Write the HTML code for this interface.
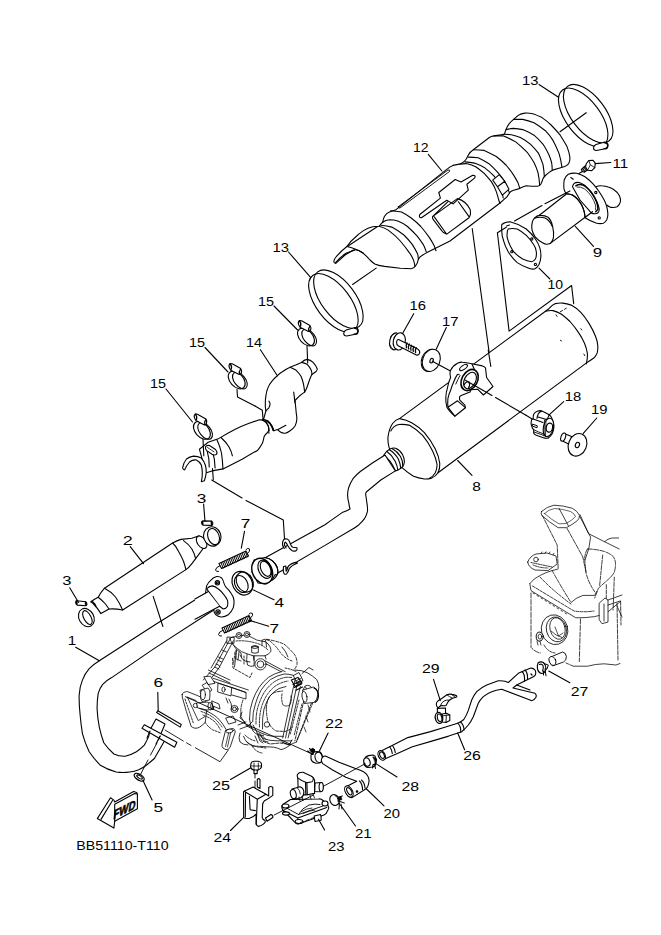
<!DOCTYPE html>
<html><head><meta charset="utf-8">
<style>
html,body{margin:0;padding:0;background:#fff;}
svg{display:block;}
text{font-family:"Liberation Sans",sans-serif;font-size:12.3px;fill:#000;}
</style></head><body>
<svg width="661" height="935" viewBox="0 0 661 935">
<g fill="none" stroke="#000" stroke-width="1.1" stroke-linejoin="round" stroke-linecap="round">
<!-- clamp 13 top -->
<g id="c13a">
<ellipse cx="583.2" cy="117.3" rx="34.3" ry="17" transform="rotate(52.9 583.2 117.3)"/>
<ellipse cx="588.2" cy="113.7" rx="34.3" ry="17" transform="rotate(52.9 588.2 113.7)"/>
<path d="M596 144.5 L605 142 Q608.5 142.5 608 146 Q607 148.5 604 149 L596.5 150.5 Q593.5 150.5 593.5 148 Q593.7 145.5 596 144.5 Z" fill="#fff"/>
<path d="M604 142.5 Q608.5 143 607.5 147.5 Q606 149.5 604 148.5" stroke-width="1.3"/>
</g>
<path d="M539 84.5 L558.5 97.2"/>
<path d="M560 131.7 L586.2 112.7"/>
<!-- clamp 13 lower -->
<g transform="translate(-249.8 185.5)">
<ellipse cx="583.2" cy="117.3" rx="34.3" ry="17" transform="rotate(52.9 583.2 117.3)"/>
<ellipse cx="588.2" cy="113.7" rx="34.3" ry="17" transform="rotate(52.9 588.2 113.7)"/>
<path d="M596 144.5 L605 142 Q608.5 142.5 608 146 Q607 148.5 604 149 L596.5 150.5 Q593.5 150.5 593.5 148 Q593.7 145.5 596 144.5 Z" fill="#fff"/>
<path d="M604 142.5 Q608.5 143 607.5 147.5 Q606 149.5 604 148.5" stroke-width="1.3"/>
</g>
<path d="M288.5 252 L310.8 277.6"/>
<path d="M352.6 284.5 L376.2 268.1"/>
<!-- heat shield 12 outline -->
<path fill="#fff" d="M334.2 262.5 Q333 260.5 336 257 Q341 251 346.9 246.5 Q350 241.5 354.5 238 Q359 233.5 363.5 230.6 Q368 227.8 372.6 226.8 L379.2 226.2 Q381.5 223 382.7 222.2 Q383.5 218 384.5 216.2 Q386.5 213.3 389.4 212 L395.4 210.1 L447.7 168.6 Q450 166.5 452.9 165.4 L459.3 164.1 Q462 163.5 463.6 161.9 Q466 160 466.7 158.3 L468.5 154.7 Q470 152 473.3 149.8 L481.8 143.2 L489 137.7 Q491 136.3 493.9 135.9 L501.2 134.7 Q503.7 134.5 504.5 134.1 Q505 132 505.7 130.1 Q507 126.5 509.1 123.9 Q511 121.5 513.6 119.4 L518.2 115.4 Q521 113.5 525 113.1 Q528 112.8 532.9 113.7 Q537 115 542 117.6 Q547 121 551.1 125 Q556 130 560.2 135.2 Q564 141 567 146.6 Q569 151.5 569.8 156.8 Q570.2 161 568.7 163.6 Q567 165.6 564.7 166.5 L559 168.2 L553.3 169.9 Q550.5 171 548.8 172.7 L545.4 175.5 Q544 177 543.1 178.4 Q542 182 540.9 184 Q539.5 186 537.5 186.3 L531.8 186.3 L526.1 185.8 Q522.5 186.8 519.3 188.6 L513.6 190.3 Q511.5 191 510.2 192 Q508.5 194.5 506.9 196.9 Q504 199.5 500 203 L450 241 L428 252 Q425 253.5 422 255.5 Q419.5 257 418.4 259.2 Q417.5 263.5 416 265.2 Q414 268.5 411.2 268.8 L400.3 268.2 L384.5 266.4 Q378 265.5 374.8 264 Q372 262 370 260 Q367 256.5 363.3 253.3 Q358 249 353.3 250 L345 255 L335.8 263.3 Q335 263.5 334.2 262.5 Z"/>
<path d="M335.5 262.5 Q341 256.5 346.5 253 L354.5 250.2 M346.9 246.5 Q351 247.5 354.5 248.7 Q359.5 250.5 363.3 253.3 M348.4 245.7 L377.2 226.8"/>
<!-- cone ribs -->
<path d="M379.1 226.2 Q384 227.5 388.2 230.1 Q395 235 400.3 241 Q405 246.5 408.7 251.9 Q412 256 413.6 260.4 Q414.8 264 414.8 266.4"/>
<path d="M380.9 225.3 Q387 225.8 391.8 227.1 Q398 230.5 403.9 235 Q408.5 239.5 412.4 244.6 Q415.5 249.5 417.8 254.3 L418.4 259.2"/>
<path d="M382.7 222.2 Q385.5 220 389.4 219.8 Q394 219.8 397.8 221 Q403 223 407.5 226.5 Q412.5 231 417.2 236.2 Q420.5 240.5 423.3 244.6 Q425 248 426.3 251.9"/>
<path d="M390.6 210.7 Q396 211 401.5 212 Q406.5 214.5 411.2 218 Q416.5 222 420.8 226.5 Q425.5 232 429.3 237.4 Q432 241.5 434.2 245.8 L436 250.7"/>
<!-- body ribs middle -->
<path d="M460 164.3 Q464 163.4 467.3 163.7 Q471.5 164.8 475.7 166.8 Q480 169.8 484.2 173.4 Q488 177.5 491.5 181.9 Q494.5 186.5 496.3 191.6 Q497.8 196 498.7 200 L500 203.5"/>
<path d="M464.8 161.9 Q470 162.5 474.5 163.1 Q479.5 165 484.2 167.4 Q489.5 171.5 493.9 175.8 Q497.5 180 500 184.3 Q501.8 189 502.4 194 L503.2 198"/>
<path d="M468.5 157.1 Q473.5 157.2 478.2 157.7 Q484 160.5 489 163.7 Q493.5 167.8 497.5 172.2 Q501.2 176.5 504.2 180.7 Q506.5 185.5 508.4 190.4 L509.5 193"/>
<path d="M473.3 149.8 Q479 150 484.2 150.4 Q490.5 153.3 496.3 156.5 Q501.5 160.5 506 165 Q510 169.8 513.3 174.6 Q516 178.8 518.1 183.1 L519.8 188.3"/>
<!-- bulge ribs -->
<path d="M493.9 135.9 Q499 135.8 503.6 135.9 Q510 138.5 515.7 141.9 Q522 147 527.2 152.3 Q531 157.5 534 162.5 Q536.5 167.5 538 172.7 Q539.3 179 539.7 185.5"/>
<path d="M504.5 134.3 Q508 134.4 511.4 134.7 Q516 135.8 520.4 137.5 Q526 140.5 530.6 144.3 Q535 148.5 538.6 153.4 Q541.2 159 543.1 164.8 Q544 170.5 544.3 176.1"/>
<path d="M506.2 129.6 Q510 128.7 513.6 128.4 Q518 128.6 522.7 129.6 Q528.5 132 534 135.2 Q539 139.5 543.1 144.3 Q546.5 149.5 548.8 154.5 Q550.5 158.5 551.6 162.5 Q552.2 166 552.2 169.9"/>
<path d="M513.6 119.4 L522.7 119.4 Q528.5 120.5 534 122.8 Q540 126.5 545.4 130.7 Q550 135.5 553.3 140.9 Q556.5 147 559 153.4 Q561 160 561.9 167"/>
<!-- tabs -->
<path d="M492.7 180.1 L499.3 174.6 L504.8 181.3 L497.5 186.7 Z M497.5 186.7 L504.8 181.3 L509 189.2 L502.4 195.2 Z" fill="#fff"/>
<!-- slots -->
<path d="M398.3 206.7 L448 170 Q450.5 169.5 449.5 171.5 L400 208 Q398 208.5 398.3 206.7 Z" stroke-width="0.9"/>
<path d="M419.8 214.5 L440.4 198.1 L438.8 192.5 L455.2 179.5 L461 182 L472.7 175.3 Q476 175.2 474.8 177.9 L466.9 184.3 L468.3 190.2 L453.1 203.9 L446.8 200.2 L421.4 217.7 Q418.5 218 419.8 214.5 Z"/>
<path d="M432.5 216.6 L447.8 201.8 M457.4 198.6 Q466 201 470 209.2 Q471.5 214 469 217.7 L446.8 234.1 Q443 233 441.5 230.4 L433.5 219.8 Q432 218 432.5 216.6 Z M458.4 201.8 L469 216.6 M434.1 216.6 L446.2 233.5"/>
<path d="M472.2 228.5 L491 366"/>
<path d="M428.3 154.4 L441.9 171"/>

<!-- tail pipe 9 -->
<path fill="#fff" d="M595.8 186.7 Q599 185.5 601.7 185.8 Q605.5 186 608.3 187.1 Q611 188 613.3 189.2 Q617.5 192 619.3 195.5 Q621 199 620.4 201.9 Q619.5 205 617.2 206.7 Q614 208 610 207.1 Q608 206.3 606.7 205"/>
<path fill="#fff" d="M564.2 180 Q565.5 176 568.3 174.2 Q572 172.8 576.7 173.3 Q581 174.5 585 176.7 Q589.5 180 593.3 184.2 Q596.5 188 599.2 191.7 Q602 196 604.2 200 Q606 203.5 606.7 206.7 Q607.8 210.5 607.9 214.2 Q607.8 217.5 606.7 220 Q605 222.5 603.3 223.3 Q599.5 224 596 223 Q590 221 585.5 218 Q577 210 570 200 Q566.5 196.5 565 191.7 Q563.5 188.5 563.8 186.7 Q563.7 183 564.2 180 Z"/>
<path fill="#fff" d="M572.5 186.7 Q573 184.5 574.2 183.3 Q576.5 182 579.2 182.5 Q582 183.5 584.2 185 Q587 187.5 589.2 190 Q592 193 594.2 196.7 Q596.3 200 597.5 203.3 Q598.8 206.5 599.2 209.2 Q599.2 211.5 598.3 212.5 Q596.8 213.8 595 213.8 Q593 213.8 591.7 213.3 L580 200 Z"/>
<path d="M575.8 185.8 Q578 184.5 580.8 184.6 Q583.5 185.3 585.8 186.7 Q588.5 189 590.8 191.7 Q593.3 195 595 198.3 Q596.7 201.5 597.5 205 Q598 207.5 597.9 209.2 Q597 210.8 595.8 211.7" stroke-width="1.5"/>
<path d="M577 187 Q580.5 186.5 584.5 188.8 Q588.5 192 591.5 196.5 Q594 200.5 595.3 204.5 Q596 207.5 595.5 209.5" stroke-width="0.8"/>
<path d="M570.8 177.5 L573.3 179.2"/>
<circle cx="595.8" cy="192.5" r="1.1"/><circle cx="599.2" cy="217.9" r="1.1"/>
<path fill="#fff" d="M538.1 216.3 L566.7 193.8 Q570 194 572.5 195 Q575.5 196.8 577.5 199.2 Q580 202 581.7 205 Q583.3 208.3 584.2 211.7 Q584.8 214.5 585 217.5 L592.5 211.7 L549.9 243.6 Z"/>
<path d="M566.7 193.8 Q570 194 572.5 195 Q575.5 196.8 577.5 199.2 Q580 202 581.7 205 Q583.3 208.3 584.2 211.7 Q584.8 214.5 585 217.5"/>
<path fill="#fff" d="M531.8 228.1 Q531.5 221 534.5 218.1 Q537 215 540.8 215.4 Q545 215.5 548.1 217.2 Q551.5 220.5 552.6 226.3 Q554 232 553.5 237.2 Q552.5 242 549.9 243.6 Q546 245.2 542.6 242.7 Q538 240.5 535.4 237.2 Q532 232 531.8 228.1 Z"/>
<path d="M534.5 218.1 Q540 216.5 545 218 Q549.5 220 552 226"/>
<!-- bolt 11 -->
<path fill="#fff" d="M581.3 169.5 L586.5 164.8 L589.5 168.2 L584.3 172.3 Q582 172 581.3 169.5 Z"/>
<path d="M582.5 168.3 l2.3 3 M583.9 167.1 l2.3 3 M585.3 165.9 l2.3 3" stroke-width="1.1"/>
<path fill="#fff" d="M586.3 163.5 L588.8 160.6 L592.8 160.2 L595.3 163.2 L594.8 167.6 L591.8 170.6 L587.6 170.3 L585.6 167 Z" stroke-width="1.1"/>
<path d="M588.8 160.6 L590.3 164.8 L594.8 167.6 M590.3 164.8 L587.6 170.3" stroke-width="0.8"/>
<path d="M582.8 171.2 L579 173.5"/>
<path d="M595.2 163.6 L610.8 162.5"/>
<path d="M575.3 226.3 L593.5 246.3"/>
<!-- gasket 10 -->
<path fill="#fff" fill-rule="evenodd" d="M501.8 224.5 Q505 221.8 510 221.8 Q519 224 526.3 229 Q532 234 535.4 239 Q538.5 243.5 539.9 248.1 Q541.2 252.5 540.8 257.2 Q540.5 261.5 539 264.4 Q537 268 534.5 269 Q531 269.5 528.1 268.1 Q522.5 266 517.2 262.6 Q512 258 508.2 251.7 Q505 246 503.6 240.8 Q501.8 236 501.8 231.8 Q501.5 227 501.8 224.5 Z M508.2 229 Q512 228 517.2 229 Q522 231.5 526.3 235.4 Q530.5 239.5 533.6 244.5 Q536 248 536.3 251.7 Q536.8 256 535.4 259 Q533.5 261.7 531.8 261.7 Q527 261 522.7 259 Q517.5 256 513.6 251.7 Q510 246.5 508.2 240.8 Q506.5 236.5 507.2 233.6 Q507 230.5 508.2 229 Z"/>
<circle cx="531.8" cy="239" r="1.1"/><circle cx="511.8" cy="251.7" r="1.1"/><circle cx="535.4" cy="264.4" r="1.1"/>
<path d="M506.5 226 L509.5 225"/>
<path d="M539 268.1 L549.9 279"/>
<!-- reference lines -->
<path d="M514.5 220.9 L542 205.5 M545 203.8 L569.9 190.9"/>
<path d="M506.3 227.2 L497.4 232.7 L509.1 331.1 L571.6 285.5 L573.7 303.6"/>
<!-- muffler 8 -->
<path fill="#fff" d="M399.5 418.6 L548.2 309.3 Q552 305 555.4 303.6 Q559 302.8 562.7 303.1 Q567 303.8 571.2 305.1 Q576.5 308 580.8 312.4 Q585.5 317.5 589.3 323.9 Q593 330 595.4 336 Q597.5 341 597.8 345.7 Q598 350 597.2 352.9 Q596 356 594.1 357.8 Q590.5 360.5 586.9 362.6 L438 472.7 Q435.5 476.5 431.7 478.1 Q428 479.2 424.4 479 Q418.5 478.2 413.5 476.3 Q407.5 472.5 402.6 468.1 Q394 460 389 447.2 Q387.5 441.5 388.1 436.3 Q389.2 428.5 392.6 423.5 Q395.5 420 399.5 418.6 Z"/>
<path d="M399.5 418.6 Q406.5 419.8 411.7 422.7 Q418.5 426.5 424.4 432.7 Q431 440.5 435.3 449 Q439 456.5 439.8 463.6 Q440 469 438 472.7"/>
<path d="M545.7 311.2 Q549.5 310.2 553 310.6 Q557.5 312 561.5 314.2 Q566 317.5 570 321.5 Q574.5 326.5 578.4 332.4 Q582 337.5 584.5 343.3 Q586.7 348.5 587.5 354.1 Q587.5 359 586.3 363.8"/>
<path d="M390.8 430.9 Q393.5 425.5 399 424.5 Q404.5 424 409.9 425.4 Q416.5 429 422.6 435.4 Q428.5 442.5 432.6 450.9 Q436 458 437.1 464.5 Q437 469.5 435.3 472.7 Q433 476.5 429.9 478.1"/>

<path d="M556 314.8 l1 1.5 M580.8 328.7 l1 1.3 M560.3 340.2 l1.2 0.8 M583.9 354.1 l0.8 1.5" stroke-width="0.9"/>
<path d="M560.3 311.8 L562.5 310.5 M564.5 309.3 L566.3 308.2" stroke-width="0.9"/>
<!-- inlet pipe collar -->
<path fill="#fff" d="M383.5 455.5 Q386 451 390 449 Q393 447.5 395.5 448.3 Q400 450 402.5 454.5 Q404.6 458.5 404.4 461.8 Q404 465.5 402.6 466.6 Q400.5 469 397.5 470.3 L395.4 470.9 Q393 465 390 461 Q387 457.5 383.5 455.5 Z"/>
<path d="M386.9 451.5 Q392 455 395 461 Q397.3 465.5 397.8 470"/>
<path d="M389.3 449.7 Q395 453 398.3 459 Q400.5 464 400.7 468.3"/>
<path d="M392 448.5 Q397.5 451.5 400.5 456.5 Q403 461 402.8 466.2"/>
<!-- bracket on muffler -->
<path fill="#fff" d="M471.8 363.8 L482.4 365.9 Q485 366.8 485.5 368 L486.6 377.5 L493 386.5 L483.4 395 L477.6 389.2 L468 390 Z"/>
<path fill="#fff" d="M450.6 377.5 Q449.5 372.5 450.5 370.5 Q452.5 366 457.5 363.2 Q461 361.8 462.2 362.2 Q466 362.5 471.8 363.8 L477 375 L470 392 L461.2 395.5 L459.6 396.6 L459.6 399.8 L464.9 405.1 L465.4 407.7 L454.8 416.2 Q449 411 446.9 407.2 Q445.5 402 445.8 397.7 Q446 392 447.4 388.1 Q448.5 382 450.6 377.5 Z"/>
<path d="M457.5 374.4 Q455 378 453.8 381.8 Q451.8 386 450.6 390.3 Q448.7 394.5 447.9 398.7 Q447.5 403 447.9 407.2 L454.8 416.2 M447.9 407.2 L457.5 400.8 L465.4 407.7"/>
<path d="M457.5 374.4 Q459.5 373.5 460 375.5 Q458 379 455.8 384" stroke-width="0.9"/>
<ellipse cx="469.6" cy="380" rx="7.8" ry="11.2" transform="rotate(28 469.6 380)" fill="#fff" stroke-width="1.6"/>
<ellipse cx="470" cy="380.5" rx="5.6" ry="8.8" transform="rotate(28 470 380.5)" stroke-width="1.1"/>
<ellipse cx="463.5" cy="367.5" rx="4.5" ry="2" transform="rotate(-35 463.5 367.5)"/>
<path d="M464 385 Q466 381 469 382 Q470.5 385 468.5 388"/>
<!-- leader 12 to bracket continues -->
<path d="M488.2 350 L490.8 366.4"/>
<!-- reference line washer to grommet -->
<path d="M465.4 380.2 L492 395.5 M495.5 397.5 L526 415.3"/>
<!-- bolt 16 -->
<ellipse cx="395" cy="341.4" rx="5.3" ry="8.6" transform="rotate(12 395 341.4)" fill="#fff"/>
<ellipse cx="399.3" cy="341.4" rx="6" ry="8.7" transform="rotate(12 399.3 341.4)" fill="#fff"/>
<path d="M390.5 337 Q392 334 394 333.5 M390 345 Q391 348 393.5 349.5" stroke-width="0.8"/>
<path fill="#fff" d="M398.6 339.5 L417.7 349.1 Q420.5 351 419.5 353.5 Q418.3 355.7 416.4 355 L398.6 345.9 Q396.2 344.5 396.6 342.3 Q397 339 398.6 339.5 Z"/>
<path d="M407 342.8 q-1.5 2.8 -0.6 5 M409.3 344 q-1.5 2.8 -0.6 5 M411.6 345.2 q-1.5 2.8 -0.6 5 M413.9 346.4 q-1.5 2.8 -0.6 5 M416.2 347.6 q-1.5 2.8 -0.6 5" stroke-width="1.3"/>
<path d="M402.7 333.2 L413.7 313.7"/>
<!-- washer 17 -->
<ellipse cx="430.2" cy="360.4" rx="8.6" ry="11.4" transform="rotate(22 430.2 360.4)" fill="#fff"/>
<ellipse cx="431.3" cy="360.4" rx="8.6" ry="11.4" transform="rotate(22 431.3 360.4)" fill="#fff"/>
<ellipse cx="431.6" cy="360.7" rx="1.6" ry="2.3" transform="rotate(22 431.6 360.7)"/>
<path d="M436.3 349.1 L446.3 327.5"/>
<path d="M432.3 361.2 L450 370.7"/>
<!-- grommet 18 -->
<path fill="#fff" d="M533.2 418.9 Q533 416 533.7 414.3 Q535 412 537.3 411.2 Q539.5 410.3 541.4 410.7 Q543.5 411.5 545.5 412.7 L549.1 414.8 Q551 416 551.7 417.9 Q553 420.5 553.5 423 Q554 425.5 553.8 428.1 Q553.3 431.3 552.2 433.8 Q550.5 436.5 548.6 437.9 Q546 438.5 544 437.9 L536.3 435.3 Q534.3 434.5 533.7 433.3 L533.7 429.7 Q532.3 428.5 531.9 426.6 Q531 424.8 531.1 423 Q531.2 421 531.7 419.4 Z"/>
<path d="M537 418.4 Q537.5 415.5 538.3 413.7 Q539.5 411.8 541.4 411.4"/>
<path d="M533.2 418.9 L543 422.5 M538 417 L546.5 419.5 Q549 417 549.1 414.8"/>
<ellipse cx="548.4" cy="427.4" rx="5" ry="9.3" transform="rotate(12 548.4 427.4)" fill="#fff"/>
<ellipse cx="549.4" cy="427.6" rx="3.2" ry="4.6" transform="rotate(12 549.4 427.6)" fill="#fff" stroke-width="1.3"/>
<path d="M544.5 420 L544 436 M546 419.5 L545.5 436.5" stroke-width="0.8"/>
<path d="M532.7 424.2 L537.3 425.8 L537 427.8 L532.7 426.2 Z" stroke-width="1"/>
<path d="M533.7 429.7 Q538 432 544 434 M534 432 L544 435.5" stroke-width="0.9"/>
<path d="M526 415.3 L532.2 418.9"/>
<path d="M549.1 414.8 L563.7 401.6"/>
<!-- washer 19 -->
<path fill="#fff" d="M564.2 433.4 L571.6 436.5 L569.5 444.5 L563.1 441.3 Z"/>
<ellipse cx="563.2" cy="437.1" rx="2.2" ry="4.3" transform="rotate(20 563.2 437.1)" fill="#fff"/>
<ellipse cx="577.5" cy="444.8" rx="9" ry="11.6" transform="rotate(22 577.5 444.8)" fill="#fff"/>
<ellipse cx="577.4" cy="445" rx="2" ry="2.8" transform="rotate(22 577.4 445)"/>
<path d="M583.3 433.4 L596.8 418"/>
<!-- leader 8 -->
<path d="M457.7 460.5 L472 475.3"/>

<!-- pipe 14 upper S -->
<path fill="#fff" d="M277.4 375.7 Q280 373 282.8 371.5 Q286 369 290.1 367.2 L296.2 364.8 L301.6 362.4 Q304 360 307 359.4 Q310.5 360 313.1 362.4 Q316 365.5 317.3 369 Q317 370.5 316.1 371.5 L311.9 374.5 Q310.5 377 309.5 380 L307 387.2 Q306 390 304.6 392.1 Q302 394 299.8 395.7 L295 400.5 Q295.5 405 296.2 412.6 Q297 417 296.8 419.9 Q296.5 423 295 426 Q293 429 290.1 430.8 Q287.5 432.8 285.3 433.2 Q282.5 433.5 280.4 432 L277.4 429.6 L273.8 430.8 Q272.5 426 270 423 Q266.5 420 262.3 419.3 L263.2 420.5 L265.9 410.8 Q265 405 265.3 405.4 Q265.2 400 265.9 395.7 Q266.5 391 267.7 388.4 Q269.5 384 272 381.2 Q274.5 378 277.4 375.7 Z"/>
<path d="M301.6 362.4 Q304.5 362.8 307 364.2 Q309.5 366.8 311.3 370.3 Q312 372.5 311.9 374.5"/>
<path d="M290.1 367.2 Q293.5 368.5 296.2 370.3 Q299 373 301 376.3 Q302.5 380 303.4 383.6 Q304.3 388 304.6 392.1"/>
<path d="M293.7 392.1 Q294 394.5 294.3 396.9 Q294.6 400 295 403"/>
<path d="M268.9 401.1 Q270.2 403 270.1 404.2 Q269.8 406 268.9 407.8 L265.9 410.8"/>
<path d="M278 429.6 L285.9 425.3"/>
<!-- collar between S and catalyst -->
<path d="M258.6 421.1 Q262 421.8 264.7 423.5 Q267 425.8 268.3 428.4 Q268.9 431 268.9 433.2"/>
<path d="M262.3 419.3 Q265.5 419.8 268.3 421.1 Q270.5 423.5 272 426 Q273.3 428.5 273.8 430.8"/>
<path d="M307 346 L307.7 363"/>
<path d="M255 406 L262.3 410.2 L263.2 420.5"/>
<!-- catalyst section -->
<path fill="#fff" d="M208.2 442.3 L219 438.4 Q227 433.5 234.8 429.5 Q242 426 248.5 423.6 L259.4 419.7 L262.5 420.1 Q266 421.5 268.1 425.6 Q269 428 268.9 430.4 L267.3 432.8 Q265 434.5 264.1 436.7 Q263.5 440 262.5 443.1 Q260.5 447 257.8 450.2 Q250 454.5 242.6 459 L223 468.9 L212.1 470.9 L205.5 473 L203 462 L199.4 449.2 Z"/>
<path d="M221 437.5 Q226 442 229 447 Q231.5 451.5 232.4 455.8"/>
<path d="M217 440 Q220 446 221.5 453 Q222.5 460 223 468.9"/>
<path d="M262.5 420.1 Q266.5 421.8 268.1 425.6 Q269 428 268.9 430.4"/>
<path d="M266 420.5 Q270 423 271.5 426.5 Q272.7 429 272.9 430.4"/>
<!-- neck rings & slot -->
<path d="M207.2 451.2 Q209.5 459 209.2 467"/>
<path d="M212.1 450.2 Q215 459 215.1 467.9"/>
<path fill="#fff" d="M205.5 447 Q206.5 444.8 209.5 445.5 L215.5 449.5 Q217.8 452 216.5 454.4 Q214.5 455.6 212 454.2 L206.8 450.6 Q205 449 205.5 447 Z"/>
<path d="M207.5 447.5 L214 451.8" stroke-width="0.8"/>
<!-- left half-pipe end (saddle) -->
<path fill="#fff" d="M182.6 467.9 Q183.5 462.5 186.5 459 Q189.5 456.5 193.5 456.1 Q198 456.3 201.3 458.1 Q204 461 205.3 465 Q206.5 469 206.2 472.8 Q205.8 477 204.3 480.7 L201.3 481.7 Q202.5 477 202.3 472.8 Q202.2 468.5 201.3 465 Q199.5 461.5 196.4 460 Q193 459.3 189.5 462 Q186.5 465.5 184.6 469.9 Q183.3 470 182.6 467.9 Z"/>
<path d="M212.5 468.5 L213.3 479.6"/>
<path d="M203 439.1 L203.8 455.8"/>
<g transform="translate(306 337)">
<ellipse cx="0" cy="0" rx="6.6" ry="10.3" transform="rotate(-42)" fill="#fff"/>
<ellipse cx="3.2" cy="0.5" rx="5.6" ry="9.6" transform="rotate(-38 3.2 0.5)"/>
<path d="M-7.2 -12 Q-8.5 -15 -6.5 -16.5 L-4.5 -16.2 L4 -11.5 Q5.5 -9.5 4.5 -6.5 L2.5 -5.5 L-6 -9.8 Z" fill="#fff"/>
<path d="M-6.5 -16 Q-4.5 -14 -5.5 -10.8 M3.8 -10.6 Q2 -8.5 3 -5.8" stroke-width="1.3"/>
</g>
<g transform="translate(236.7 380)">
<ellipse cx="0" cy="0" rx="6.6" ry="10.3" transform="rotate(-42)" fill="#fff"/>
<ellipse cx="3.2" cy="0.5" rx="5.6" ry="9.6" transform="rotate(-38 3.2 0.5)"/>
<path d="M-7.2 -12 Q-8.5 -15 -6.5 -16.5 L-4.5 -16.2 L4 -11.5 Q5.5 -9.5 4.5 -6.5 L2.5 -5.5 L-6 -9.8 Z" fill="#fff"/>
<path d="M-6.5 -16 Q-4.5 -14 -5.5 -10.8 M3.8 -10.6 Q2 -8.5 3 -5.8" stroke-width="1.3"/>
</g>
<g transform="translate(201.9 430.4)">
<ellipse cx="0" cy="0" rx="6.6" ry="10.3" transform="rotate(-42)" fill="#fff"/>
<ellipse cx="3.2" cy="0.5" rx="5.6" ry="9.6" transform="rotate(-38 3.2 0.5)"/>
<path d="M-7.2 -12 Q-8.5 -15 -6.5 -16.5 L-4.5 -16.2 L4 -11.5 Q5.5 -9.5 4.5 -6.5 L2.5 -5.5 L-6 -9.8 Z" fill="#fff"/>
<path d="M-6.5 -16 Q-4.5 -14 -5.5 -10.8 M3.8 -10.6 Q2 -8.5 3 -5.8" stroke-width="1.3"/>
</g>
<path d="M274 306 L297.6 330"/>
<path d="M205 347.5 L228 372"/>
<path d="M166 389 L192.5 422"/>
<path d="M260.4 349.7 L277.4 375.7"/>
<path d="M237 389.5 L237.5 397 L255 406"/>
<!-- long connecting pipe -->
<path fill="#fff" d="M265.6 557.5 L325 524.8 L330 521.1 L342.1 512.6 Q347.5 510.5 350 509 Q349 505 348.8 502.9 Q347.5 498 347.6 494.5 Q347.8 490.5 348.8 487.2 Q350.5 482.5 353 478.7 Q356.5 474.5 360.3 471.5 L372.4 463 L385 455 L395.4 470.9 L380.8 480 L366.3 492 Q365.5 493.5 365.7 494.5 Q366.3 498.5 366.9 502.9 Q367.7 507.5 367.5 511.4 Q366.5 515.5 364.5 518.7 Q362 522 359 524.7 Q355.5 527.5 351.8 529.6 L325 545.4 L275.3 574.5 Z"/>
<!-- bell end -->
<path fill="#fff" d="M265 557.5 Q270 558.5 272.8 561.2 Q275.8 564 277.1 567.2 Q278.2 570.5 277.7 573.3 Q276.5 576 275.3 574.5 L272 580 L266 584 L258 583 L252 572 L254 560 Z"/>
<path d="M265 557.5 Q270 558.5 272.8 561.2 Q275.8 564 277.1 567.2 Q278.2 570.5 277.7 573.3 Q277 576.5 272.5 580"/>
<ellipse cx="262.2" cy="571" rx="9.8" ry="13.2" transform="rotate(-25 262.2 571)" fill="#fff" stroke-width="1.4"/>
<ellipse cx="264.8" cy="569.3" rx="6.2" ry="9.6" transform="rotate(-25 264.8 569.3)"/>
<ellipse cx="265.6" cy="568.8" rx="4.6" ry="8" transform="rotate(-25 265.6 568.8)"/>
<!-- hooks -->
<path fill="#fff" d="M284.3 548.4 Q282 545.5 282.5 543 Q283 539.5 285 538.8 Q287.5 538.8 288.6 540 Q290 542 290.4 544.2 Q291.5 546.5 292.8 547.2 Q295 547.5 297 547.8 Q297.5 550 295.8 550.9 Q293 551.5 291.6 550.3 Q289.3 548.5 288 546 Q287 543.5 285.5 542.3 Q284.2 542.5 284.5 545 L286 548"/>
<path fill="#fff" d="M297.6 563 Q292 565 289.3 568.5 Q288.3 572 286.5 574 Q284 575 283.4 572 Q283.2 568.5 283.5 566.5 L285.8 566 Q285.8 569 286.2 571.3 Q287.3 570.5 287.7 567.5 Q289.5 563.5 296 562.4 Z"/>
<path d="M211.7 480 L242 498 M246 500.5 L283.3 520 L284.5 538.5"/>
<!-- header pipe 1 -->
<path fill="#fff" d="M207 592.5 L156.6 623.7 L99.3 660.8 Q94 664 89.2 668.7 Q85 673.5 82.5 679.9 Q79.5 687 79.1 695.6 Q79 705 80.2 715.8 Q81 725 82.5 733.8 Q85 743 89.2 751.8 Q94 759 100.4 765.3 Q107 769.5 116.2 772 Q123 773 129.7 772 Q134.5 771.5 138.7 769.8 Q143.5 767.5 147.6 764.2 Q151 761.5 154.4 758.5 L165 740 L150 728 Q149.5 733 148.8 736.1 Q146.8 741 144.3 745.1 Q140.5 749 136.4 751.8 Q131 755 125.2 756.3 Q119 756.5 113.9 754 Q108 749 103.8 742.8 Q101 735 99.3 727.1 Q97.5 718 97.1 709.1 Q97 701 98.2 693.4 Q99.8 688 102.7 684.4 Q106.5 680.5 111.7 677.6 L154.4 648.4 L216 608.5 Z"/>
<!-- gaskets 6 -->
<path fill="#fff" d="M150 730 L156 719 L165 724 L160 736 Z"/>
<path fill="#fff" d="M142 728.2 L144.3 724.8 L176.9 742.3 L174.6 747.3 Z"/>
<path fill="#fff" d="M156.6 712.5 L157.8 710.8 L181.3 724.4 L180.2 727.1 Z"/>
<path d="M150 731 L147 738 M160 736 L156 744" />
<path d="M140.9 773.7 L148 760 M150.5 755 L157 743 M158.5 740 L160.3 736" stroke-width="0.9"/>
<path d="M157.8 692.2 L158.2 710.5"/>
<path d="M75.7 647.3 L99.3 660.8"/>
<!-- clamp 5 -->
<ellipse cx="139.2" cy="777.2" rx="5.6" ry="2.9" transform="rotate(32 139.2 777.2)" fill="#fff" stroke-width="1.3"/>
<ellipse cx="139.6" cy="777" rx="3.2" ry="1.3" transform="rotate(32 139.6 777)"/>
<path d="M143 780.5 L152.1 800"/>
<!-- pipe 1 flange -->
<path fill="#fff" d="M205.5 593 L206.6 585.9 Q208 582.5 210.9 580.1 Q213.5 577.2 216.7 576.5 Q219.8 576.3 221.7 578 Q223.3 580.3 223.9 583 Q224.5 585.5 226.1 587.4 Q229 590 231.1 593.2 Q233.5 596.5 234 600.4 Q234.3 604.5 233.3 607.6 Q231.5 612 228.2 614.8 Q224.5 617.3 221 617 Q218 616.5 216 614.8 Q214 612.8 213.8 610.5 L214.5 606.2 Z"/>
<path fill="#fff" d="M206.6 588.8 Q209.5 586 212.3 585.9 Q215.5 586.5 218.1 588.8 Q221 591 223.2 593.9 Q226 597 227.5 600.4 Q228.3 603.5 227.5 606.2 Q226 608.8 223.2 609 L219.6 606.2 Z"/>
<path fill="#fff" stroke="none" d="M195 598.9 L208 591.7 L219.6 606.2 L195 619.2 Z"/>
<path d="M195 598.9 L208 591.7 M195 619.2 L219.6 606.2"/>
<circle cx="217.4" cy="582.8" r="2.2" fill="#fff"/><circle cx="217.4" cy="582.8" r="1"/>
<circle cx="218" cy="612" r="2.2" fill="#fff"/><circle cx="218" cy="612" r="1"/>
<!-- gasket 4 -->
<ellipse cx="242.3" cy="583.2" rx="9.8" ry="12.3" transform="rotate(-28 242.3 583.2)" fill="#fff" stroke-width="1.2"/>
<ellipse cx="244.8" cy="582" rx="8" ry="10.6" transform="rotate(-28 244.8 582)"/>
<ellipse cx="241.3" cy="584" rx="6.2" ry="9" transform="rotate(-28 241.3 584)"/>
<path d="M253.5 590 L274 599.8"/>
<!-- springs 7 -->
<g transform="translate(219 563.5)">
<path d="M0 0 L27 -12.5 L29.5 -7.5 L2.5 5 Z" fill="#fff"/>
<path d="M2.20 -0.40 l2 5 M3.82 -1.15 l2 5 M5.44 -1.89 l2 5 M7.06 -2.63 l2 5 M8.68 -3.38 l2 5 M10.30 -4.12 l2 5 M11.92 -4.87 l2 5 M13.54 -5.62 l2 5 M15.16 -6.36 l2 5 M16.78 -7.11 l2 5 M18.40 -7.85 l2 5 M20.02 -8.60 l2 5 M21.64 -9.34 l2 5 M23.26 -10.09 l2 5 M24.88 -10.83 l2 5 M26.50 -11.58 l2 5" stroke-width="1"/>
<path d="M0.5 2.5 Q-3 3.5 -3.5 6.5 Q-3 8.5 -0.5 8 M28.5 -10 Q31.5 -12.5 30.5 -14.5 Q28.8 -16 27 -14" stroke-width="1"/>
</g>
<g transform="translate(222 628)">
<path d="M0 0 L27 -12.5 L29.5 -7.5 L2.5 5 Z" fill="#fff"/>
<path d="M2.20 -0.40 l2 5 M3.82 -1.15 l2 5 M5.44 -1.89 l2 5 M7.06 -2.63 l2 5 M8.68 -3.38 l2 5 M10.30 -4.12 l2 5 M11.92 -4.87 l2 5 M13.54 -5.62 l2 5 M15.16 -6.36 l2 5 M16.78 -7.11 l2 5 M18.40 -7.85 l2 5 M20.02 -8.60 l2 5 M21.64 -9.34 l2 5 M23.26 -10.09 l2 5 M24.88 -10.83 l2 5 M26.50 -11.58 l2 5" stroke-width="1"/>
<path d="M0.5 2.5 Q-3 3.5 -3.5 6.5 Q-3 8.5 -0.5 8 M28.5 -10 Q31.5 -12.5 30.5 -14.5 Q28.8 -16 27 -14" stroke-width="1"/>
</g>
<path d="M244.5 531.4 L241.3 548.2"/>
<path d="M249 620.2 L268.7 626.3"/>
<!-- pipe 2 -->
<path fill="#fff" d="M91.2 601.5 Q94.5 599 98.2 597.2 Q101 592 104.5 588.2 L172.6 543 Q177 540.5 181 539.4 L191.9 538.2 L199.2 535.7 L205.2 544.2 Q204 547 202.8 549 L199.2 553.9 L191.9 563.6 Q189 567.5 185.9 569.6 L122.6 610 Q115.5 608.5 109 609 L100.9 613.6 Q97.5 608 94 604.5 Q92.5 603.5 91.2 601.5 Z"/>
<path d="M104.5 588.2 Q111 591.5 115.5 597 Q119.5 602.5 122.6 610 M98.2 597.2 Q102.5 600.5 105.5 604 L109 609"/>
<path d="M172.6 543 Q176.5 546.5 178.6 551.5 Q181.5 556.5 183.5 561.2 Q185 565.5 185.9 569.6"/>
<path d="M183.5 540.6 Q188.5 544 191.9 549 Q194.5 553.5 195.6 558.7"/>
<ellipse cx="201.6" cy="542.3" rx="4.2" ry="7" transform="rotate(-35 201.6 542.3)" fill="#fff"/>
<path d="M91 602 Q92.5 601.3 93.5 602.8 Q95 604 95.8 606" stroke-width="1.5"/>
<path d="M130.2 546.6 L143.5 563.6"/>
<path d="M153.2 596.3 L162.9 626.5"/>
<!-- clamps 3 -->
<g transform="translate(212.3 536.4)">
<ellipse cx="0" cy="0" rx="8.6" ry="9.8" transform="rotate(-20)" fill="#fff"/>
<ellipse cx="1.2" cy="0.2" rx="5.6" ry="8.3" transform="rotate(-20 1.2 0.2)"/>
<path d="M-9.5 -12.5 Q-10.8 -13.5 -10.5 -15 L-9.5 -15.5 L-0.5 -15.3 Q0.8 -14 0.5 -12.5 L-0.3 -11 L-9.3 -11.2 Z" fill="#fff"/>
<path d="M-10.3 -15 Q-11.5 -13 -10 -11.3 Q-8.6 -12.5 -9.5 -15 Z M-1 -15 Q0.8 -13.5 -0.5 -11.2 Q-2 -13 -1 -15 Z" fill="#000" stroke-width="0.8"/>
</g>
<g transform="translate(86.4 617.6)">
<ellipse cx="0" cy="0" rx="7.4" ry="9.6" transform="rotate(-28)" fill="#fff"/>
<ellipse cx="1" cy="0" rx="3.6" ry="7.6" transform="rotate(-28 1 0)"/>
<path d="M-9.5 -14 Q-10.8 -15 -10.5 -16.5 L-9.5 -16.8 L-0.5 -15.8 Q0.8 -14.5 0.5 -13 L-0.3 -11.8 L-9.3 -12.5 Z" fill="#fff"/>
<path d="M-10.3 -16.5 Q-11.5 -14.5 -10 -12.6 Q-8.6 -13.8 -9.5 -16.5 Z M-1 -15.6 Q0.8 -14 -0.5 -11.9 Q-2 -13.5 -1 -15.6 Z" fill="#000" stroke-width="0.8"/>
</g>
<path d="M203.6 504 L205 521.4"/>
<path d="M69.7 587.8 L78.6 602.5"/>

<g id="engine" stroke-width="0.8">
<!-- right dome (dashed) -->
<path d="M262.3 640 Q266 638.5 270.4 640 Q278 641.5 284 644.1 Q290 649 294.9 655 Q297.5 660 297 664.5 Q296 668 293.6 670" stroke-dasharray="3 1.5"/>
<path d="M270 641 Q276 646 280 652 Q284 658 292 661" stroke-dasharray="2 1.5"/>
<path d="M282 647 Q286 651 288 657" />
<!-- head top plate -->
<path fill="#fff" d="M230 638.3 Q232 636.5 235 636.7 L245 635 Q251 636.5 256.7 640 Q261 641 265 641.7 Q268.5 643.5 270 646.7 Q271.3 649.5 270.8 651.7 Q268.5 654.5 265 655.8 L253.3 655.8 Q247 654 241.7 651.7 Q237 648.5 233.3 645 Q230.5 641.5 230 638.3 Z"/>
<path d="M233.3 645 Q236 650 241 653 L241.5 657 M253.3 655.8 L253.8 660 M265 655.8 L266 659"/>
<path d="M236 641 Q245 640 256 643 Q263 645 268 650" stroke-dasharray="2 1.2"/>
<circle cx="239" cy="635.5" r="3" fill="#fff"/><circle cx="247" cy="634.5" r="3" fill="#fff"/>
<circle cx="239" cy="635.5" r="1.5"/><circle cx="247" cy="634.5" r="1.5"/>
<path fill="#fff" d="M251.7 647 L251.7 652.5 Q255 654 258.3 652.5 L258.3 647 Q255 645.5 251.7 647 Z"/>
<ellipse cx="255" cy="647" rx="3.3" ry="1.4"/>
<path d="M265 641.7 L266 639.5 L269 640.5"/>
<!-- left tube column -->
<path d="M230 639.2 L215 666.7 L203.3 680 M233.3 640.8 L219.2 667.5 L210 680 M226.5 641 L211 668"/>
<path d="M222 650 L226.5 652 M218.5 657 L223 659"/>
<path d="M216 664 Q219 664 220 667"/>
<path fill="#fff" d="M204.2 676.7 L210.5 676.2 L215 683.3 L208.5 684.5 Z"/>
<path d="M202.5 685 L207 682.5 L212 690 L208 693 Z"/>
<path d="M208.3 670 L230 680 M209 673 L230 683"/>
<!-- cam area dashed box -->
<path d="M232.5 658.3 L233 668 L250 677.5 L252 673 M235 652 L233.5 664" stroke-dasharray="2.5 1.5"/>
<path d="M236.5 650 L234.5 667 M239 652 L238 660"/>
<path d="M240 655 Q242 660 245 661 L250 662"/>
<!-- bolt bosses right of head -->
<circle cx="260.5" cy="664.3" r="5.6" fill="#fff"/><circle cx="260.5" cy="664.3" r="3.4"/>
<path d="M247 654.2 Q246 660 247.5 665 Q250 667 254 666 L254.3 656"/>
<!-- head lower band -->
<path d="M213.3 678.3 L248.3 690 M214 681.5 L246 692.5"/>
<path d="M218.3 683.3 L231.7 687.5 L231 696 L218 692 Z"/>
<ellipse cx="223.5" cy="689.5" rx="1.6" ry="2.6"/>
<path d="M232 687.5 L246 692.5 L246 699 L232 695" />
<path d="M265 660.8 L285.2 671.7 M266 663.8 L285.5 674"/>
<!-- throttle body flange rings -->
<path fill="#fff" d="M249.5 719 Q249.5 709 252.5 701 Q255 693.5 259 687.5 Q263 681.5 268.5 677.3 Q275 673 282 671.5 L293.6 675.4 L295 679.5 L282.7 738 L270 742 Q258 738 252.7 730 Z" stroke="none"/>
<path d="M252.7 721.7 Q252.5 712 255.4 704 Q257.5 696.5 260.9 690.4 Q265 684 270.4 679.5 Q277 675.5 284 674 Q289 673.8 293.6 675.4"/>
<path d="M256 724 Q255.8 713 258.4 705.5 Q261 697.5 264.5 692 Q268.5 686 274 682 Q280 678 287 677.2 L292 677.5" stroke-dasharray="3 1.2"/>
<path d="M259.5 727 Q259 716 261.5 707 Q264 699 268 693.5 Q272 688 277 685 Q282 682 288 681" stroke-dasharray="2.5 1.2"/>
<path d="M262.5 729 Q262 718 264 709 Q266.5 701 270 696 Q274 691 279 688.5 L286 686.5"/>
<path d="M249.5 719 Q249.5 709 252.5 701 Q255 693.5 259 687.5 Q263 681.5 268.5 677.3 Q275 673 282 671.5"/>
<path d="M249.5 719 Q250.5 727 253 731 Q257 736 263.6 735.3 M253 725 Q256 733 263 738.5 Q270 741 277.2 740.8 L290.8 740.8"/>
<!-- inner opening -->
<path d="M266.3 708 Q267 701 269 697.2 Q272.5 692.5 277.2 691.7 L282.7 691 M266.3 708 Q266.5 716 268 722 Q271 728 276 731 L285 731.5 Q290 730 292.5 727" stroke-dasharray="3 1.3"/>
<circle cx="267" cy="724.5" r="2.7" fill="#fff"/>
<path d="M282 694 Q281 700 283 705 Q286 707 290 705 Q292 700 291 696" stroke-dasharray="2 1.2"/>
<!-- throttle right side lines -->
<path d="M295 679.5 L282.7 738 M300.4 686.3 L288.1 738 M297.5 683 L285.5 738"/>
<path d="M305.8 691.7 L294.9 740.8 M313 699 L296.3 742.1" stroke-dasharray="3 1.5"/>
<path d="M293.6 675.4 L299 672.5 L303 680.5 L298 684 Z" fill="#fff"/>
<path d="M295.5 681 L301 678.5 M296.5 683.5 L302 681" />
<path d="M295 670 Q302 670 307.2 672.7 Q313 676 316.7 679.5 Q319 683.5 318.8 687.7 Q318.3 693 316.7 698.6"/>
<path d="M303 690 L305 686 Q308 684.5 310 686 L317 694 Q318.5 697 316 699 L312 698" fill="#fff"/>
<path d="M305.5 687 L307.5 691 M304 690 Q306 690 307 692" />
<path d="M316.7 698.6 L314 700 L296.3 742.1" stroke-dasharray="2 1.2"/>
<path d="M308 705 L310 712 M306 716 L308 722 M304 727 L306 732" stroke-width="0.7"/>
<!-- lower body / bottom -->
<path d="M258 735 L262 741 L270 744 L280 743 L290 744.5 L296.3 742.1" stroke-dasharray="3 1.3"/>
<path d="M262 735.5 L266 739.5 M259.5 733 L264 741 L268 742" />
<path d="M257 733 L260 741 L263 743 M255 736 L258 743" />
<path d="M243 700 Q240 708 241 716 Q243 722 248 726 L252.7 728" stroke-dasharray="3 1.3"/>
<path d="M247 742 Q252 746 258 747 L266 748 M252 746 Q256 752 262 753" stroke-dasharray="2.5 1.2"/>
<!-- triangular frame bracket -->
<path fill="#fff" d="M182.2 694.4 Q182.8 692.8 183.6 692.5 Q185.5 691.5 187.4 691.6 L196.8 695.3 L205 699 L207 708 L205.2 722.5 Q202 725.5 199.6 727.2 Q197 728.5 194.9 728.2 Q192.5 727.8 191.1 726.3 Q186 711 182.5 698 Q182 696 182.2 694.4 Z"/>
<path d="M187.4 697.2 L198.2 720.6 L205 716.5 M187.4 697.2 L196 700.5" stroke-width="0.75"/>
<path d="M185 699 L193.5 723.5" stroke-dasharray="2 1.3"/>
<circle cx="195.5" cy="705.5" r="2.2" fill="#fff"/>
<!-- exhaust bar with collar -->
<path fill="#fff" d="M196.8 703 L207 702 L213.6 705 L213.6 709.4 L207 710 L198 708 Z"/>
<ellipse cx="210.3" cy="706.1" rx="2.4" ry="3.6" fill="#fff"/>
<ellipse cx="212.3" cy="706.1" rx="1.6" ry="3.3"/>
<!-- port curves -->
<path d="M199.6 708.5 Q204.5 710 209 712.2 Q213.5 714.5 217.4 717.8 Q220.5 721 223 724.4 L225.8 729.1"/>
<path d="M201 711.5 Q209 714 214.5 718.5 Q219 722.5 222 727" stroke-dasharray="2 1.2"/>
<path d="M203 715 Q210 717.5 215 722 Q218.5 726 220.5 730" stroke-dasharray="2.5 1.2"/>
<path d="M205.2 722.5 Q208 727 213 730 L221 733" stroke-dasharray="2 1.3"/>
<!-- stud -->
<path fill="#fff" d="M226 730 L233 728.5 Q235.5 729.5 235.2 732 L230 747.5 Q228.5 749.8 226 749.7 L223 748 Q221.5 746.5 222 744.5 Z"/>
<path d="M229 731.5 L225.5 746.5 M231 731 L227.5 747" stroke-width="0.7"/>
<ellipse cx="229.6" cy="731" rx="3.6" ry="1.9" transform="rotate(-10 229.6 731)" fill="#fff"/>
<!-- middle parts -->
<path fill="#fff" d="M200.5 690 L208 688 Q210.5 690 210 695 L209.5 700 L202 701.5 Q200 699 200.5 695 Z"/>
<ellipse cx="203" cy="694.7" rx="2.4" ry="5" fill="#fff"/>
<circle cx="234.5" cy="709" r="3.6" fill="#fff"/><circle cx="234.5" cy="709" r="1.9"/>
<path d="M212 701 L219 704 L220 709 L213 706 Z" fill="#fff"/>
<path d="M238 725 L246 722 M240 729 L248 726 L252 722" />
<path d="M242 712 L240 718 L245 722" />
<path d="M229 699 Q232 703 232 710 M226 698 L228 703" />
<path d="M226 718 L233 716 L236 722 L229 724 Z" fill="#fff"/>
<!-- extra detail -->
<path d="M291.3 680 L298 677.4 L302 683 L295 686.5 Z M293 684.5 L300 681 M294.5 687.5 L301.5 684 M296 690.3 L302.5 687" stroke-width="1.1"/>
<path fill="#fff" d="M303 690 L313.5 687 Q317.8 689 317.8 694.5 Q317.5 700 314 702.4 L304.5 703.5 Z"/>
<ellipse cx="304.5" cy="696.8" rx="2.4" ry="5.5" transform="rotate(-10 304.5 696.8)" fill="#fff"/>
<path d="M314 688 Q318.5 690 318.5 696 Q318 701 315 702.4" stroke-width="1.2"/>
<path d="M299 700 L290 735 M302 704 L294 736" stroke-dasharray="2 1.3"/>
<path d="M285 668 Q291 669 296 671.5" stroke-dasharray="2 1.2"/>
<path d="M302 673.6 L309 667.5 L313 670" />
<path d="M262 640.5 L262 645 M266 642 L266.5 647" />
<path d="M236 650 L236 659 L241 661 M244 656 L244 664" stroke-dasharray="2 1.2"/>
<path d="M227.5 637 L234.2 637.5 L234 643.3 L227.1 643.3 Z" />
<path d="M217.5 660 L221.5 662 M214.5 667 L219 669" />
<path d="M245 735 Q250 740 256 741" stroke-dasharray="2 1.2"/>
<path d="M243.5 736.3 Q245 740 247.1 742.4 Q250 745 253.2 746 M262 746.5 L273.7 747.2 Q278 748 281 749.6 Q284 749 285.8 747.8 L290.7 744.8" />
<path d="M253.2 746 L262 746.5" stroke-dasharray="2 1.2"/>
<path d="M245.9 725.4 Q250 728 255.6 730.3 Q261 733 266.5 735.1 Q271 736.3 275 736.3 L283.4 736.3" />
<path d="M240 733 Q238 738 240 742 Q243 745 248 745" />
<path d="M282 742 L289 745 L292 740" stroke-width="1"/>
<!-- reference lines through engine -->
<path d="M185.5 696.7 L309.9 753" stroke-width="0.9"/>
<path d="M165.1 730.1 L183.3 741 M186.5 742.8 L191 745.4 M195.4 747.8 L220 761.7 L228.3 750" stroke-width="0.85"/>
</g>

<g id="airbox" stroke-width="0.75">
<!-- snorkel -->
<path d="M541.7 511.3 Q547 506.5 554 505.2 Q564 505.5 572.4 508.3 Q577.5 511 579.5 515.4 Q579.5 518.5 577.5 520.5 Q572 525 566.3 527.7 L558.1 527.7 Q549 522 541.7 515.4 Q540.5 513 541.7 511.3 Z"/>
<path d="M544.5 513.5 Q548.5 509.5 554.5 508.5 Q563 509 570.5 511.5 Q574.5 513.5 575.5 516.5 Q572 520.5 566 523.5 L559 523.8 Q551 519.5 544.5 513.5 Z" stroke-width="0.6"/>
<path d="M559 508.3 L568.3 525.6" />
<path d="M542.4 515.6 L557.2 545.1 L558.2 568.7" stroke-dasharray="4 1.2"/>
<path d="M567 528.3 L582.8 556.9 L586 572" stroke-dasharray="5 1.2"/>
<path d="M579.8 516.5 L590.6 537.2 L588.7 549 L585 560" />
<path d="M580 514.7 L588.6 533.7 L604.5 541.7 L619.2 549" />
<path d="M604.5 541.7 Q608 538.5 611.9 538 L618.6 538" />
<path d="M587.4 549 Q596 549 604.5 551.5 Q610 553.5 613.1 556.4 Q615.5 560 615.5 563.7 Q615.5 568.5 614.3 572.3 Q612 576 609.4 578.4 L598.4 588.2 L594.7 598" stroke-dasharray="5 1.3"/>
<path d="M602.7 555.1 L599.6 585.8" stroke-dasharray="4 1.3"/>
<path d="M587.4 549 Q584 555 584.9 561.3 Q585.3 567 586.1 573.5 Q588 580 591 585.8 L594.7 591.9" stroke-dasharray="4 1.3"/>
<path d="M606.3 584.6 L606.3 605 M614.3 577.2 L613.1 610" stroke-dasharray="4 1.3"/>
<!-- small bracket left of snorkel -->
<path d="M527.7 562 Q530 556 536 554 L547 553 L556 556 L557.2 564 L548 570.6 L535 570 Q528 567 527.7 562 Z" fill="#fff"/>
<circle cx="536" cy="559.5" r="2.3"/>
<path d="M531 562.5 L552 567 M533 565 Q540 568 548 568" stroke-dasharray="1.5 1"/>
<path d="M541 553.5 l1 -1.5 M545 553.3 l1 -1.5 M549 553.5 l1 -1.5 M553 554.8 l1 -1.5" />
<!-- lid -->
<path d="M529.8 583.6 Q534 578 540.4 575.3 Q546 572.3 552.2 570.6 L558 569" />
<path d="M529.8 583.6 L531 590.7 L575.8 617.8 Q585 618 594.7 616.6 Q600 615.5 606.5 613.1 L620.6 601.3"/>
<path d="M532.5 586 L574 611 Q584 612.5 594 611" stroke-dasharray="3 1.2"/>
<path d="M571 602.5 Q576 597.5 582.9 595.4 L594.7 595.4 L597 591" />
<path d="M552.2 570.6 Q560 585 571 602.5" stroke-dasharray="4 1.3"/>
<path d="M540 577 Q552 590 571 604" stroke-dasharray="3 1.3"/>
<path d="M533 593 l1.5 0.8 M537 595.6 l1.5 0.8 M541 598 l1.5 0.8 M545 600.5 l1.5 0.8 M549 603 l1.5 0.8 M553 605.5 l1.5 0.8 M557 608 l1.5 0.8 M561 610.5 l1.5 0.8 M565 613 l1.5 0.8" />
<!-- box body -->
<path d="M531 593 L531 647.3 Q535 652 540.4 653" stroke-dasharray="5 1.5"/>
<path d="M580.5 619 L579.3 661.5" stroke-dasharray="5 1.5"/>
<path d="M573.4 666.2 L587.6 666.2 Q595 664 604.1 663.8 L615.9 665 L620 663.5" />
<path d="M566 663 L573.4 666.2" stroke-dasharray="3 1.3"/>
<path d="M620.6 601.3 L621 625 M617 603 L618 660" stroke-dasharray="4 1.3"/>
<!-- right side bracket -->
<path d="M599.4 603 L605 598 L608 600 L608 622 L602 623.7 L599.4 620 Z" fill="#fff"/>
<path d="M604 604 L604 621" />
<path d="M608 600 L622 595 M608 605 L620 601" />
<path d="M617 606 L622 617" />
<!-- intake port -->
<ellipse cx="554.6" cy="629.7" rx="13.2" ry="15" transform="rotate(-15 554.6 629.7)" fill="#fff"/>
<ellipse cx="556.4" cy="629.4" rx="10" ry="12.6" transform="rotate(-15 556.4 629.4)"/>
<ellipse cx="557.5" cy="628.5" rx="7.5" ry="11" transform="rotate(-15 557.5 628.5)" stroke-width="0.7"/>
<path d="M551 631 Q556 636 562 637.5 M555 627 L558.5 636 L563 633" stroke-width="0.7"/>
<path d="M544 645 Q548 652 555 653" stroke-dasharray="2 1"/>
<!-- small clamp on port -->
<ellipse cx="539.7" cy="636.6" rx="3.5" ry="4.5" fill="#fff" stroke-width="1"/>
<ellipse cx="539.9" cy="636.6" rx="1.8" ry="2.5"/>
<path d="M537 641 L538 645 M540 641.5 L541 645" />
<!-- pipe stub -->
<path fill="#fff" d="M552 656.5 L562.5 652 Q566 652.5 566.4 656.5 Q566.5 660.5 563.5 662 L553 665.8 Z" stroke-width="0.9"/>
<ellipse cx="552.5" cy="661" rx="3.2" ry="4.7" transform="rotate(-20 552.5 661)" fill="#fff" stroke-width="0.9"/>
</g>

<!-- hose 26 -->
<path fill="#fff" d="M382.1 750.5 L392.7 745.2 L407.8 737.6 L430.5 731.6 L445.6 727 L457.7 723.2 Q461.5 721.5 463.8 719.5 Q466.5 715.5 468.3 710.4 L471.7 700 Q474 695 476.7 691.7 Q481 687.5 486.7 685 L498.3 680.8 Q502 680.5 505 681.3 L508.3 682.5 L518.3 673.3 L530 668.3 Q533 667.5 535 670 Q536.5 673 535 675.5 L533.3 676.7 L516.7 685 L513 688 L535 693.3 Q537 695 535.8 697.5 Q534 700.5 531.7 700.8 L530 700 L501.7 689.2 Q496 690 491.7 691.7 Q487 693.5 483.3 696.7 Q480 700 478.3 703.3 L473.3 716.7 Q471 721.5 468.3 725 Q465 729 461.7 731.7 L448.7 736.1 L433.5 740.6 L412.4 746.7 L395.7 754.3 L385.1 758.8 Z"/>
<ellipse cx="381.7" cy="755.4" rx="3.4" ry="5" transform="rotate(-25 381.7 755.4)" fill="#fff"/>
<ellipse cx="382" cy="755.2" rx="2.1" ry="3.4" transform="rotate(-25 382 755.2)"/>
<path d="M389.7 746.8 Q392 750 392.3 753.5 M392.5 745.5 Q395 749 395.3 752.5"/>
<path d="M457.7 723.2 Q461 726 460.8 732.3 M460.5 722 Q464 725 464 730"/>
<path d="M522 671.5 Q525 674 524.5 681 M525 670 Q528 673 527.5 679.5"/>
<path d="M531 674 l1 1" stroke-width="1.2"/>
<path d="M516.7 685 L530 690" />
<path d="M457.7 733 L464.6 749.7"/>
<!-- clamp 27 -->
<path fill="#fff" d="M538 663 Q540.5 661 543.5 662.5 Q546 665 546 669 Q545 673 542 673.5 Q538.5 673 537.5 669 Q537 665.5 538 663 Z"/>
<path d="M539.5 664.5 Q541.5 663.5 543 665.5 Q544 668.5 542.5 671" />
<path d="M544 663.5 L548.3 665 L547 669 L545.5 669 M545 669 L546 675.8 M543.5 671 L543.5 675" stroke-width="1"/>
<path d="M548.7 671 L569.9 682.7"/>
<!-- clamp 29 -->
<path fill="#fff" d="M437.3 708.4 L445.5 708 L445.5 714.2 L437.5 714.5 Z"/>
<path fill="#fff" d="M436.3 704.5 Q436.2 702.5 437.3 701.6 Q439.5 699.5 442.1 698.2 L446.9 694.8 Q449.5 693.8 451.8 694.4 Q454.5 694.6 456.6 695.8 Q457.3 696.8 456.1 697.3 Q454 698 452.3 698.2 L449.4 700.2 Q447.5 702.5 446 705.5 Q444 706 442.1 705.5 Q441 705.7 440.2 706 L438.2 707.9 Q436.5 706.5 436.3 704.5 Z"/>
<path d="M440.2 706 Q441.5 702.5 444 701 Q446.5 699.5 449.4 700.2 M446.9 694.8 Q449 696.5 452.3 698.2 M451.3 694.2 Q453 696 455 696.5" stroke-width="0.9"/>
<path fill="#fff" d="M442.1 714 L446.5 713.2 L449.8 715 L449.8 720.5 L446 722.4 L442.5 722 Z"/>
<path d="M442.3 716 L446.3 715.2 L449.8 715 M446.3 715.2 L446 722.4" stroke-width="0.9"/>
<ellipse cx="439" cy="717.9" rx="3.7" ry="5.5" transform="rotate(-12 439 717.9)" fill="#fff" stroke-width="1.3"/>
<ellipse cx="439.6" cy="717.8" rx="2.2" ry="3.8" transform="rotate(-12 439.6 717.8)"/>
<path d="M433.5 679.4 L440.3 700.6"/>
<!-- clamp 22 -->
<path fill="#fff" d="M311 755 Q313 751.5 317 751.5 L320 752 Q322.8 754.5 322.4 758.5 Q322 762 319.5 763 L316 763.2 Q312 762.5 311 759 Z"/>
<ellipse cx="318.7" cy="757.4" rx="3.6" ry="5.2" transform="rotate(-15 318.7 757.4)" fill="#fff"/>
<path d="M307.5 751 L312.5 754.5 M309.5 748.5 L313.8 752.5 M314.5 749.5 L313 754.5" stroke-width="1.1"/>
<path d="M310 750 l3 -2 l2 3 l-3 2 z" fill="#000" stroke-width="0.6"/>
<path d="M328.1 733 L319.3 751.3"/>
<!-- hose 20 -->
<path fill="#fff" d="M325.4 756.1 L339 762.2 L356.7 769 Q360.5 770 363.5 771.8 Q366.5 773.5 367.6 775.8 Q369.3 778.5 369 781.3 Q368.8 784.5 367.6 786.7 Q366.5 788.5 364.9 789.5 L352 797.6 Q348 797.5 346.5 793 Q345.5 788.5 347.5 786 L356.7 781.3 L345.8 777.2 L332.2 769.7 L322.7 763.6 Q320.5 761 322 758 Q323.5 755.8 325.4 756.1 Z"/>
<ellipse cx="348.9" cy="791.5" rx="3.5" ry="6.1" transform="rotate(-30 348.9 791.5)" fill="#fff"/>
<ellipse cx="349.3" cy="791.3" rx="2" ry="4" transform="rotate(-30 349.3 791.3)"/>
<path d="M359.5 781 Q362.5 784 362.5 789.5 M361.5 780 Q364.8 783 365 788" />
<circle cx="357" cy="791.5" r="0.8" fill="#000"/>
<path d="M366.5 789 L384 805.8"/>
<!-- clamp 28 -->
<path fill="#fff" d="M364.5 758.5 Q366 756.2 368.5 755.6 L373 755 Q375.5 755.6 376 758.5 L376 763 Q375 766.5 372.5 767 L368 767.5 Q365 767 364 764 Z"/>
<ellipse cx="367" cy="762" rx="3" ry="4.3" transform="rotate(-20 367 762)" fill="#fff"/>
<path d="M373 757 L376.5 759.5 L375.5 763.5 L373.5 764.5 M374.5 764 L375.5 768.5 M373 764.5 L372.5 768" stroke-width="1.1"/>
<path d="M373.5 757.5 l2.8 2 l-1 3 z" fill="#000" stroke-width="0.6"/>
<path d="M375.8 763.6 L397 777"/>
<!-- reference lines bottom -->
<path d="M322.6 786.7 L341.5 776.5 M344.5 775 L365 763.8" stroke-width="0.9"/>

<path d="M255 773.6 L255 778 M255 781 L255 793.2" stroke-width="0.9"/>
<!-- bolt 25 -->
<path fill="#fff" d="M251 763.5 Q251.5 761.5 254 761.3 L258.5 761.3 Q261.3 762 261.5 764 L261.5 767 Q260.5 769.5 258 770 L254 770 Q251.3 769.5 250.5 767 Z"/>
<path d="M251 766 L261.5 766 M254 763 L254 770 M258.3 763 L258.3 770" stroke-width="0.8"/>
<path d="M254 770 L254 773.6 L257.2 773.6 L257.2 770" />
<path d="M230.5 779.5 L250.5 768"/>
<!-- bracket 24 -->
<path fill="#fff" d="M257.3 787 L257.3 779.5 Q258.6 777.8 260 779.5 L260 788.5 Z"/>
<path fill="#fff" d="M244.1 791.3 L253.2 787.1 L266 794.3 L268.7 796 L268.7 787.5 Q270.8 785.5 272.8 787.5 L272.8 795.4 Q269 798.5 264.5 800.7 Q262.5 803 262.6 805.3 L262.2 817.4 Q262.5 819.5 265 820.5 L265.3 822 Q263.5 825 258.4 826.4 Q256.5 825.5 256.2 824.2 L256 814 Q254 817 249 818.5 L246.3 818.5 Q244 818 243.7 817.4 L243.5 792 Z"/>
<path d="M244.1 791.3 L257.3 799.2 L266 794.3 M257.3 799.2 L256.2 824.2 M245.5 793 L245.3 817"/>
<path d="M249.4 796.2 L250.1 809.8 L255.4 810.6"/>
<path fill="#fff" d="M265.5 818 L271 814.5 Q273.3 815.3 272.8 817.5 L267 821.2 Z"/>
<path d="M243.7 817.4 L230.5 830.5"/>
<!-- valve 23 -->
<path fill="#fff" d="M281.9 808.1 Q281.5 806 283.2 804.2 L290.5 799.5 L318.5 799 Q321 798.5 323 800.5 L328 805.5 Q329.5 808 328 810 L327.1 811.6 Q326.5 814 324 815 L299 823.8 Q296.5 824.5 295 822.5 Q289 816 283 810.5 Z"/>
<path d="M283 810.5 Q290 814 297.8 818 L326.8 807.5 M297.8 818 L298 823.8"/>
<path d="M286.5 808 Q293 811.5 298.5 814.5 L323 806 M298.5 814.5 Q302 808 309 805 Q315 803.5 320 804.5" stroke-width="0.9"/>
<path d="M301.5 811.5 Q306 808.5 312 808 M303 813.5 Q309 810.5 315 810" stroke-width="0.8"/>
<ellipse cx="285.5" cy="806" rx="3.5" ry="2" fill="#fff"/>
<ellipse cx="325" cy="803.5" rx="3" ry="2.5" fill="#fff"/>
<ellipse cx="286" cy="813.5" rx="3.5" ry="1.6" fill="#fff"/>
<ellipse cx="299" cy="821.5" rx="3.8" ry="2" fill="#fff"/>
<path fill="#fff" d="M314.2 816 L320.5 814.5 Q321.5 817 321.1 820.2 L315 821.5 Z"/>
<path d="M300.5 822.5 L304 821.5 M306 820.5 L309 819.5 M311 818.5 L314 817.5" stroke-width="0.8"/>
<path fill="#fff" d="M315 783 L321.5 782.5 Q323.5 784.5 323.3 787.5 Q322.8 790.8 320.5 791.7 L314.6 791.5 Z"/>
<ellipse cx="321.2" cy="787.1" rx="2.1" ry="4.6" fill="#fff"/>
<path fill="#fff" d="M297.8 777.9 L298.3 793.4 Q302 795.5 307.3 794.7 L314.6 793.4 L314.6 780 L313.3 777.9 Z"/>
<path fill="#fff" d="M297.4 774.5 Q299 772 303 772.3 L311 776 Q313.8 777.5 313.3 779 Q313 781.5 312 781.8 L306.9 782.7 Q302 781.5 297.8 777.9 Q296.8 776 297.4 774.5 Z"/>
<path d="M306.9 782.7 L307.3 794.7 M305.5 782.5 L305.8 794.5"/>
<path fill="#fff" d="M292 789 L300 786.8 Q303.5 788 303.9 792 Q303.8 796 301.5 797.5 L296 799 Z"/>
<ellipse cx="293.3" cy="794.1" rx="2.8" ry="4.6" transform="rotate(-15 293.3 794.1)" fill="#fff"/>
<path d="M297.5 788 Q300 790 300.3 794" stroke-width="0.8"/>
<path d="M299 797 L300 801 M302 796.5 L303 800.5 M310 795 L311 799 M313 794 L314.5 798" stroke-width="0.8"/>
<path d="M318.5 819.3 L324.6 830"/>
<path d="M274.2 815 L313.3 795" stroke-width="0.9"/>
<!-- clamp 21 -->
<ellipse cx="334.5" cy="800" rx="4.5" ry="5.6" transform="rotate(-25 334.5 800)" fill="#fff"/>
<path d="M335 795.5 Q338.5 797 338.2 801.5 M338.5 797 L342.5 796 M338.5 801 L344.4 803 M339.5 803 L339 809 M341 804 L342 809" stroke-width="1"/>
<path d="M338 798 l3 -1.5 l1 3 l-3 1 z" fill="#000" stroke-width="0.6"/>
<path d="M340.5 805 L355.5 826"/>
<!-- FWD arrow -->
<path fill="#fff" d="M97.3 818.6 L110.5 797.8 L113.9 800.1 L114.7 802 L133.6 791.4 L136.6 792.5 L137.4 794 L137.4 808.8 L114.7 821.3 L113.9 828.1 Z"/>
<path d="M101 819.4 L112.5 800.5 M114.7 804.3 L134.6 793.6 L137.4 794 M114.7 804.3 L114.7 821.3"/>
<text font-family="Liberation Sans, sans-serif" font-size="14" font-weight="bold" font-style="italic" fill="#000" stroke="#000" stroke-width="0.6" transform="translate(113.4 819.3) skewY(-26.6)" x="0" y="0" textLength="22" lengthAdjust="spacingAndGlyphs">FWD</text>

</g>
<g id="labels" stroke="none">
<text x="522" y="84.6" textLength="16.5" lengthAdjust="spacingAndGlyphs">13</text>
<text x="413" y="151.7" textLength="15.6" lengthAdjust="spacingAndGlyphs">12</text>
<text x="612.5" y="167.5" textLength="15.8" lengthAdjust="spacingAndGlyphs">11</text>
<text x="272.5" y="251.5" textLength="16.5" lengthAdjust="spacingAndGlyphs">13</text>
<text x="592.8" y="257" textLength="9.4" lengthAdjust="spacingAndGlyphs">9</text>
<text x="547.5" y="289" textLength="15.6" lengthAdjust="spacingAndGlyphs">10</text>
<text x="409.5" y="310" textLength="16.5" lengthAdjust="spacingAndGlyphs">16</text>
<text x="442" y="326" textLength="16.5" lengthAdjust="spacingAndGlyphs">17</text>
<text x="258" y="305.7" textLength="16" lengthAdjust="spacingAndGlyphs">15</text>
<text x="189" y="347.2" textLength="16" lengthAdjust="spacingAndGlyphs">15</text>
<text x="246" y="347.2" textLength="16" lengthAdjust="spacingAndGlyphs">14</text>
<text x="150" y="388" textLength="16" lengthAdjust="spacingAndGlyphs">15</text>
<text x="564.7" y="400.9" textLength="16.5" lengthAdjust="spacingAndGlyphs">18</text>
<text x="591" y="414.4" textLength="16.5" lengthAdjust="spacingAndGlyphs">19</text>
<text x="472.3" y="490.5" textLength="8.6" lengthAdjust="spacingAndGlyphs">8</text>
<text x="196.8" y="503.4" textLength="9.6" lengthAdjust="spacingAndGlyphs">3</text>
<text x="240.8" y="528.2" textLength="9.6" lengthAdjust="spacingAndGlyphs">7</text>
<text x="122.8" y="544.7" textLength="10" lengthAdjust="spacingAndGlyphs">2</text>
<text x="62.2" y="585.3" textLength="9.2" lengthAdjust="spacingAndGlyphs">3</text>
<text x="274.6" y="607" textLength="9.6" lengthAdjust="spacingAndGlyphs">4</text>
<text x="269.4" y="633.3" textLength="9.6" lengthAdjust="spacingAndGlyphs">7</text>
<text x="67.7" y="645" textLength="8.5" lengthAdjust="spacingAndGlyphs">1</text>
<text x="153.5" y="687.3" textLength="9.6" lengthAdjust="spacingAndGlyphs">6</text>
<text x="422" y="672.6" textLength="17.6" lengthAdjust="spacingAndGlyphs">29</text>
<text x="570.8" y="695.8" textLength="17.6" lengthAdjust="spacingAndGlyphs">27</text>
<text x="325" y="728" textLength="18" lengthAdjust="spacingAndGlyphs">22</text>
<text x="463.3" y="760.2" textLength="17.6" lengthAdjust="spacingAndGlyphs">26</text>
<text x="401.5" y="791.2" textLength="17.6" lengthAdjust="spacingAndGlyphs">28</text>
<text x="212" y="789.5" textLength="18" lengthAdjust="spacingAndGlyphs">25</text>
<text x="153.5" y="812.4" textLength="9.6" lengthAdjust="spacingAndGlyphs">5</text>
<text x="383.5" y="818.4" textLength="16.5" lengthAdjust="spacingAndGlyphs">20</text>
<text x="355" y="837.5" textLength="16.7" lengthAdjust="spacingAndGlyphs">21</text>
<text x="213.5" y="841.7" textLength="17.5" lengthAdjust="spacingAndGlyphs">24</text>
<text x="328" y="851" textLength="16.5" lengthAdjust="spacingAndGlyphs">23</text>
<text x="76.3" y="850.3" textLength="92.3" lengthAdjust="spacingAndGlyphs">BB51110-T110</text>
</g>
</svg>
</body></html>
